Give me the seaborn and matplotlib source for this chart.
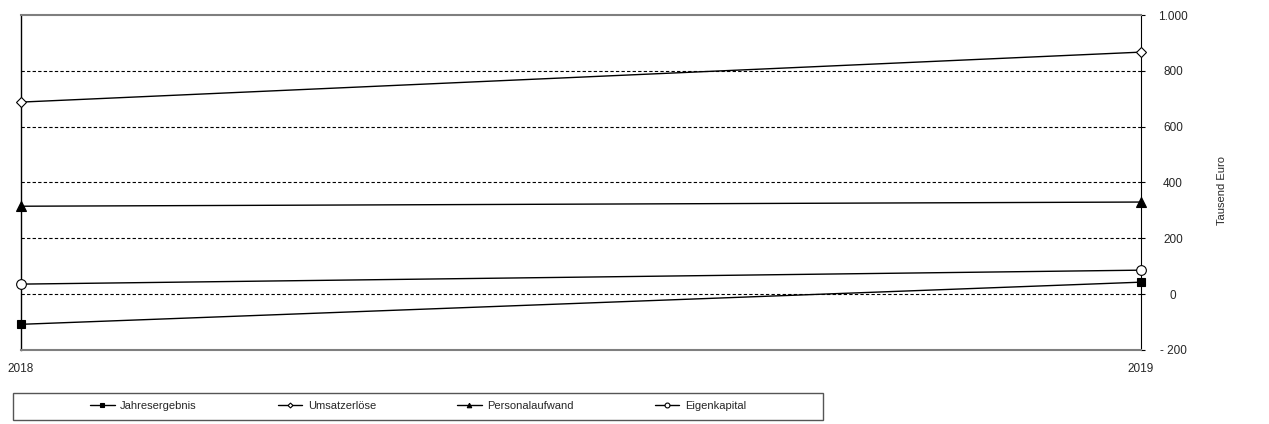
import matplotlib
matplotlib.use("Agg")
import matplotlib.pyplot as plt
import seaborn as sns
import pandas as pd
from matplotlib.patches import Rectangle

# Daten
jahre = [2018, 2019]
jahresergebnis = [-108, 43]
umsatzerloese = [688, 867]
personalaufwand = [315, 330]
eigenkapital = [36, 86]
ytick_werte = [-200, 0, 200, 400, 600, 800, 1000]
ytick_labels = ["- 200", "0", "200", "400", "600", "800", "1.000"]

sns.set_style("white")
plt.rcParams["font.family"] = ["Liberation Sans", "DejaVu Sans"]

df = pd.DataFrame({
    "Jahr": jahre,
    "Jahresergebnis": jahresergebnis,
    "Umsatzerlöse": umsatzerloese,
    "Personalaufwand": personalaufwand,
    "Eigenkapital": eigenkapital,
})

fig = plt.figure(figsize=(12.69, 4.24), dpi=100)
ax = fig.add_axes([21 / 1269, 1 - 350 / 424, 1120 / 1269, 335 / 424])

serien = [
    ("Jahresergebnis", "s", "black", 6),
    ("Umsatzerlöse", "D", "white", 5),
    ("Personalaufwand", "^", "black", 6.5),
    ("Eigenkapital", "o", "white", 7),
]
for name, m, fc, ms in serien:
    sns.lineplot(data=df, x="Jahr", y=name, ax=ax, color="black", linewidth=1,
                 marker=m, markersize=ms, markerfacecolor=fc,
                 markeredgecolor="black", markeredgewidth=0.8,
                 label=name, clip_on=False, zorder=5)

ax.set_xlim(2018, 2019)
ax.set_ylim(-200, 1000)
ax.set_xticks(jahre)
ax.set_xticklabels([str(j) for j in jahre], fontsize=8.5)
ax.tick_params(axis="x", length=0, pad=9)
ax.set_xlabel("")
ax.set_ylabel("")

ax.yaxis.tick_right()
ax.set_yticks(ytick_werte)
ax.set_yticklabels(ytick_labels, fontsize=8.5)
ax.tick_params(axis="y", length=3, width=0.8, color="black", pad=20, direction="out")
for lab in ax.get_yticklabels():
    lab.set_ha("center")

# Gitterlinien gestrichelt
for v in [0, 200, 400, 600, 800]:
    ax.axhline(v, color="black", linewidth=0.8, linestyle=(0, (3, 2)), zorder=1)

ax.spines["left"].set_color("black")
ax.spines["left"].set_linewidth(1)
ax.spines["right"].set_color("black")
ax.spines["right"].set_linestyle((0, (2, 1)))
ax.spines["right"].set_linewidth(0.8)
for s in ["top", "bottom"]:
    ax.spines[s].set_color("#7f7f7f")
    ax.spines[s].set_linewidth(1.5)

fig.text(1222 / 1269, 1 - 190 / 424, "Tausend Euro", rotation=90,
         ha="center", va="center", fontsize=8)

# Legende
handles, labels = ax.get_legend_handles_labels()
ax.get_legend().remove()
leg = fig.legend(handles, labels, ncol=4, loc="center",
                 bbox_to_anchor=(418 / 1269, 1 - 406 / 424),
                 frameon=False, fontsize=8, handlelength=2.2,
                 columnspacing=7.3, markerscale=0.5, handletextpad=0.5)
fig.patches.append(Rectangle((13 / 1269, 1 - 420 / 424), 810 / 1269, 27 / 424,
                             transform=fig.transFigure, fill=False,
                             edgecolor="#555555", linewidth=1))

fig.savefig("out.png", dpi=100)
